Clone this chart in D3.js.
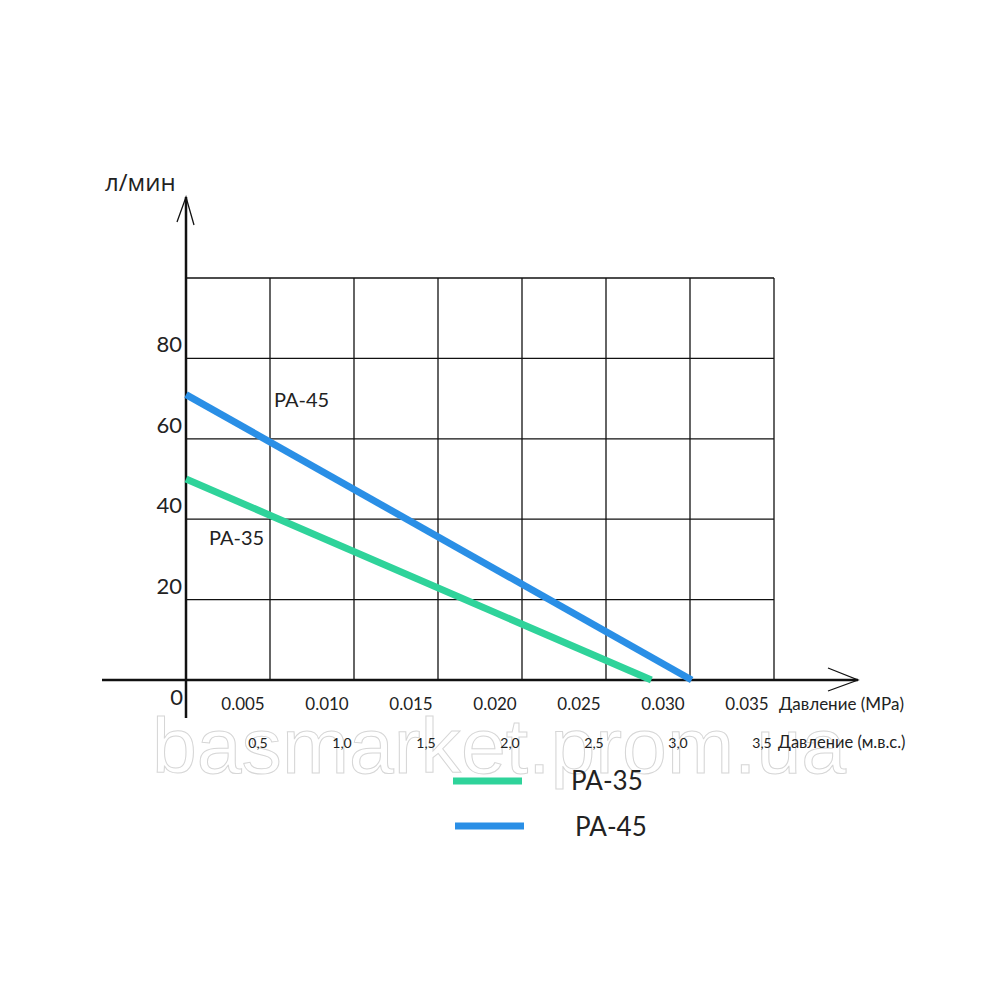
<!DOCTYPE html>
<html>
<head>
<meta charset="utf-8">
<script src="https://cdn.jsdelivr.net/npm/d3@7"></script>
<style>
  body { margin: 0; background: #fff; }
  text { font-family: Lato, "Open Sans", sans-serif; fill: #222; }
</style>
</head>
<body>
<div id="chart"></div>
<script>
// ---- data ----
var xTicksMPa = [0.005, 0.010, 0.015, 0.020, 0.025, 0.030, 0.035];
var xTicksMvs = ['0,5', '1,0', '1,5', '2,0', '2,5', '3,0', '3,5'];
var yTicks = [20, 40, 60, 80];
var gridX = [0, 0.005, 0.010, 0.015, 0.020, 0.025, 0.030, 0.035];
var gridY = [20, 40, 60, 80, 100];
var seriesNames = ['PA-35', 'PA-45'];
var seriesColors = ['#2fd39a', '#2a8fe6'];
var pa35 = [[0, 50], [0.0277, 0]];
var pa45 = [[0, 71], [0.0301, 0]];

var svgWidth = 1000,
	svgHeight = 1000;

var svg = d3.select('#chart')
	.append('svg')
	.attr('width', svgWidth)
	.attr('height', svgHeight);

var xScale = d3.scaleLinear().domain([0, 0.035]).range([186, 774]);
var yScale = d3.scaleLinear().domain([0, 100]).range([680, 278]);

// watermark
svg.append('text')
	.attr('x', 152)
	.attr('y', 773)
	.attr('textLength', 694)
	.attr('lengthAdjust', 'spacingAndGlyphs')
	.style('font-family', 'Liberation Sans, sans-serif')
	.style('font-size', '78px')
	.style('fill', 'none')
	.style('stroke', '#d6d6d6')
	.style('stroke-width', 1)
	.text('basmarket.prom.ua');

// grid
var grid = svg.append('g');
grid.selectAll('line.v')
	.data(gridX)
	.enter()
	.append('line')
	.attr('x1', d => xScale(d)).attr('x2', d => xScale(d))
	.attr('y1', yScale(100)).attr('y2', yScale(0))
	.attr('stroke', '#111').attr('stroke-width', 1.3);
grid.selectAll('line.h')
	.data(gridY)
	.enter()
	.append('line')
	.attr('x1', xScale(0)).attr('x2', xScale(0.035))
	.attr('y1', d => yScale(d)).attr('y2', d => yScale(d))
	.attr('stroke', '#111').attr('stroke-width', 1.3);

// axes with arrows
svg.append('line')
	.attr('x1', 102).attr('x2', 858)
	.attr('y1', yScale(0)).attr('y2', yScale(0))
	.attr('stroke', '#111').attr('stroke-width', 2.5);
svg.append('polyline')
	.attr('points', `828,668 858,${yScale(0)} 828,691`)
	.attr('fill', 'none').attr('stroke', '#111').attr('stroke-width', 1.3);
svg.append('line')
	.attr('x1', xScale(0)).attr('x2', xScale(0))
	.attr('y1', 197).attr('y2', 718)
	.attr('stroke', '#111').attr('stroke-width', 2.5);
svg.append('polyline')
	.attr('points', `177,222 ${xScale(0)},197 194,225`)
	.attr('fill', 'none').attr('stroke', '#111').attr('stroke-width', 1.3);

// y labels
svg.selectAll('text.ytick')
	.data(yTicks)
	.enter()
	.append('text')
	.attr('x', 182)
	.attr('y', d => yScale(d) - 6)
	.attr('text-anchor', 'end')
	.style('font-size', '22px')
	.text(d => d);
svg.append('text')
	.attr('x', 183).attr('y', 705)
	.attr('text-anchor', 'end')
	.style('font-size', '22px')
	.text('0');

svg.append('text')
	.attr('x', 105).attr('y', 191)
	.style('font-family', '"Open Sans", sans-serif')
	.style('font-size', '24px')
	.text('л/мин');

// x labels
svg.selectAll('text.xtick')
	.data(xTicksMPa)
	.enter()
	.append('text')
	.attr('x', d => xScale(d) - 27)
	.attr('y', 710)
	.attr('text-anchor', 'middle')
	.style('font-size', '17px')
	.text(d => d3.format('.3f')(d));
svg.append('text')
	.attr('x', 779).attr('y', 710)
	.style('font-size', '17px')
	.text('Давление (MPa)');

svg.selectAll('text.xtick2')
	.data(xTicksMvs)
	.enter()
	.append('text')
	.attr('x', (d, i) => xScale(xTicksMPa[i]) - 12)
	.attr('y', 748)
	.attr('text-anchor', 'middle')
	.style('font-size', '14px')
	.text(d => d);
svg.append('text')
	.attr('x', 778).attr('y', 748)
	.style('font-size', '16.5px')
	.text('Давление (м.в.с.)');

// series
var line = d3.line()
	.x(d => xScale(d[0]))
	.y(d => yScale(d[1]));

[pa35, pa45].forEach((s, i) => {
	svg.append('path')
		.datum(s)
		.attr('d', line)
		.attr('fill', 'none')
		.attr('stroke', seriesColors[i])
		.attr('stroke-width', 7);
});

// inline labels
svg.append('text')
	.attr('x', 274).attr('y', 407)
	.style('font-size', '20px')
	.text(seriesNames[1]);
svg.append('text')
	.attr('x', 209).attr('y', 545)
	.style('font-size', '20px')
	.text(seriesNames[0]);

// legend
var legend = svg.append('g');
legend.selectAll('line')
	.data(seriesNames)
	.enter()
	.append('line')
	.attr('x1', (d, i) => 453 + i * 2)
	.attr('x2', (d, i) => 522 + i * 2)
	.attr('y1', (d, i) => 781 + i * 45)
	.attr('y2', (d, i) => 781 + i * 45)
	.attr('stroke', (d, i) => seriesColors[i])
	.attr('stroke-width', 7);
legend.selectAll('text')
	.data(seriesNames)
	.enter()
	.append('text')
	.attr('x', (d, i) => 571 + i * 4)
	.attr('y', (d, i) => 790 + i * 46)
	.style('font-size', '26px')
	.text(d => d);
</script>
</body>
</html>
